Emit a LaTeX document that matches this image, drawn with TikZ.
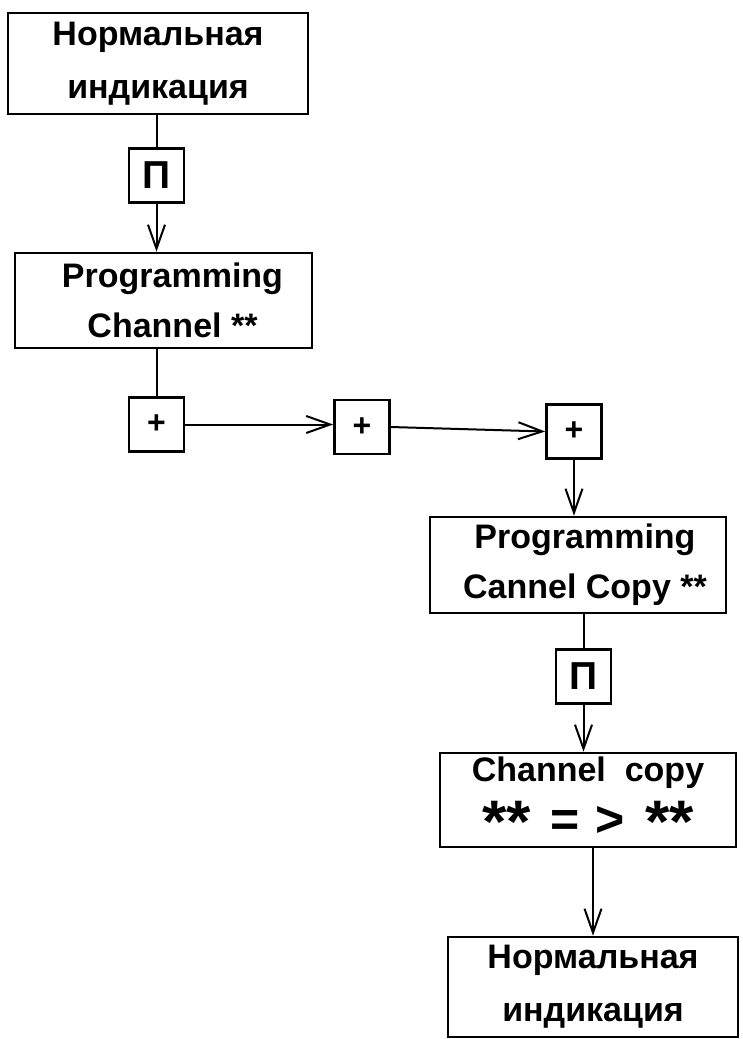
\documentclass[tikz,border=0pt]{standalone}
\usepackage{fontspec}
\setmainfont{Liberation Sans}
\usetikzlibrary{arrows.meta}

\tikzset{
  blk/.style={draw, line width=2.6pt, align=center, inner sep=0pt,
    font=\fontsize{34}{53}\selectfont\bfseries},
  key/.style={draw, line width=2.6pt, inner sep=0pt,
    minimum width=55pt, minimum height=54pt},
  link/.style={line width=2pt},
  flow/.style={link, -{Straight Barb[length=24pt,width=17pt,line width=2pt]}}
}
\newcommand{\stars}{\raisebox{-0.12em}{\scalebox{1.25}[1.2]{**}}}

\begin{document}
\begin{tikzpicture}[x=1pt,y=-1pt]
        
        \useasboundingbox (0,0) rectangle (743,1039);
        
        % left column
        \node[blk,minimum width=300pt,minimum height=101pt] (norm1) at (158,63.5) {Нормальная\\индикация};
        \node[key,font=\fontsize{39}{39}\selectfont\bfseries] (p1) at (156.5,175.5) {П};
        \node[blk,minimum width=297pt,minimum height=95pt,font=\fontsize{34}{50}\selectfont\bfseries] (prog) at (163.5,300.5) {\hspace*{18pt}Programming\\\hspace*{18pt}Channel **};
        
        % plus keys
        \node[key,font=\fontsize{32}{32}\selectfont\bfseries] (plus1) at (156.5,424.5) {+};
        \node[key,font=\fontsize{32}{32}\selectfont\bfseries] (plus2) at (362,427) {+};
        \node[key,font=\fontsize{32}{32}\selectfont\bfseries] (plus3) at (574,431.5) {+};
        
        % right column
        \node[blk,minimum width=296pt,minimum height=96pt,font=\fontsize{34}{50}\selectfont\bfseries] (copy) at (578,565) {\hspace*{14pt}Programming\\\hspace*{14pt}Cannel Copy **};
        \node[blk,minimum width=296pt,minimum height=94pt,font=\fontsize{34}{40}\selectfont\bfseries] (chcopy) at (588,800) {Channel\ \ copy\\[12pt]{\fontsize{50}{40}\selectfont \stars\hspace{20pt}=\hspace{16pt}>\hspace{20pt}\stars}};
        \node[key,font=\fontsize{39}{39}\selectfont\bfseries] (p2) at (583.5,676.5) {П};
        \node[blk,minimum width=290pt,minimum height=100pt] (norm2) at (593,987) {Нормальная\\индикация};
        
        \draw[link] (p1.north |- norm1.south) -- (p1.north);
        \draw[flow] (p1.south) -- (p1.south |- prog.north);
        \draw[link] (plus1.north |- prog.south) -- (plus1.north);
        \draw[flow] (plus1.east) -- (plus2.west |- plus1.east);
        \draw[flow] (plus2.east) -- (plus3.west);
        \draw[flow] (plus3.south) -- (plus3.south |- copy.north);
        \draw[link] (p2.north |- copy.south) -- (p2.north);
        \draw[flow] (p2.south) -- (p2.south |- chcopy.north);
        \draw[flow] (chcopy.south -| norm2) -- (norm2.north);
        
        \end{tikzpicture}
\end{document}
